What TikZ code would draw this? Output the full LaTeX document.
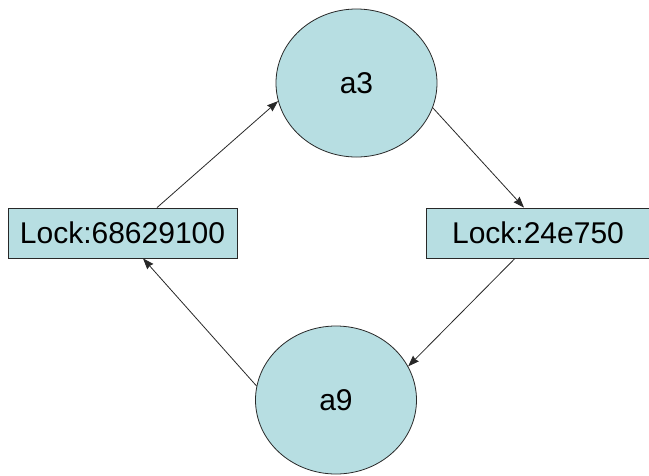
\documentclass[tikz,border=0pt]{standalone}
\usepackage{fontspec}
\setmainfont{Liberation Sans}
\usetikzlibrary{shapes.geometric,arrows.meta}
\definecolor{fillblue}{RGB}{183,222,226}
\definecolor{edgegray}{RGB}{40,40,40}
\tikzset{
  statenode/.style={ellipse,draw=edgegray,fill=fillblue,line width=0.8pt,minimum width=161pt,minimum height=148pt,inner sep=0pt,font=\fontsize{30}{34}\selectfont},
  lockbox/.style={rectangle,draw=edgegray,fill=fillblue,line width=0.8pt,minimum height=50pt,inner sep=0pt,font=\fontsize{30}{34}\selectfont},
  conn/.style={draw=edgegray,line width=0.8pt,-{Stealth[length=11pt,width=8pt,inset=1pt]}}
}
\begin{document}
\begin{tikzpicture}[x=1pt,y=-1pt]
\useasboundingbox (0,0) rectangle (649,475);
\node[statenode] (a3) at (356.5,83) {a3};
\node[statenode] (a9) at (336,400) {a9};
\node[lockbox,minimum width=229pt] (L) at (122.5,233) {Lock:68629100};
\node[lockbox,minimum width=224pt] (R) at (538,233) {Lock:24e750};
\draw[conn] ([xshift=34.5pt]L.north) -- (a3.193);
\draw[conn] (a3.342) -- ([xshift=-14pt]R.north);
\draw[conn] ([xshift=-23pt]R.south) -- (a9.25);
\draw[conn] (a9.170) -- ([xshift=20.5pt]L.south);
\end{tikzpicture}
\end{document}
